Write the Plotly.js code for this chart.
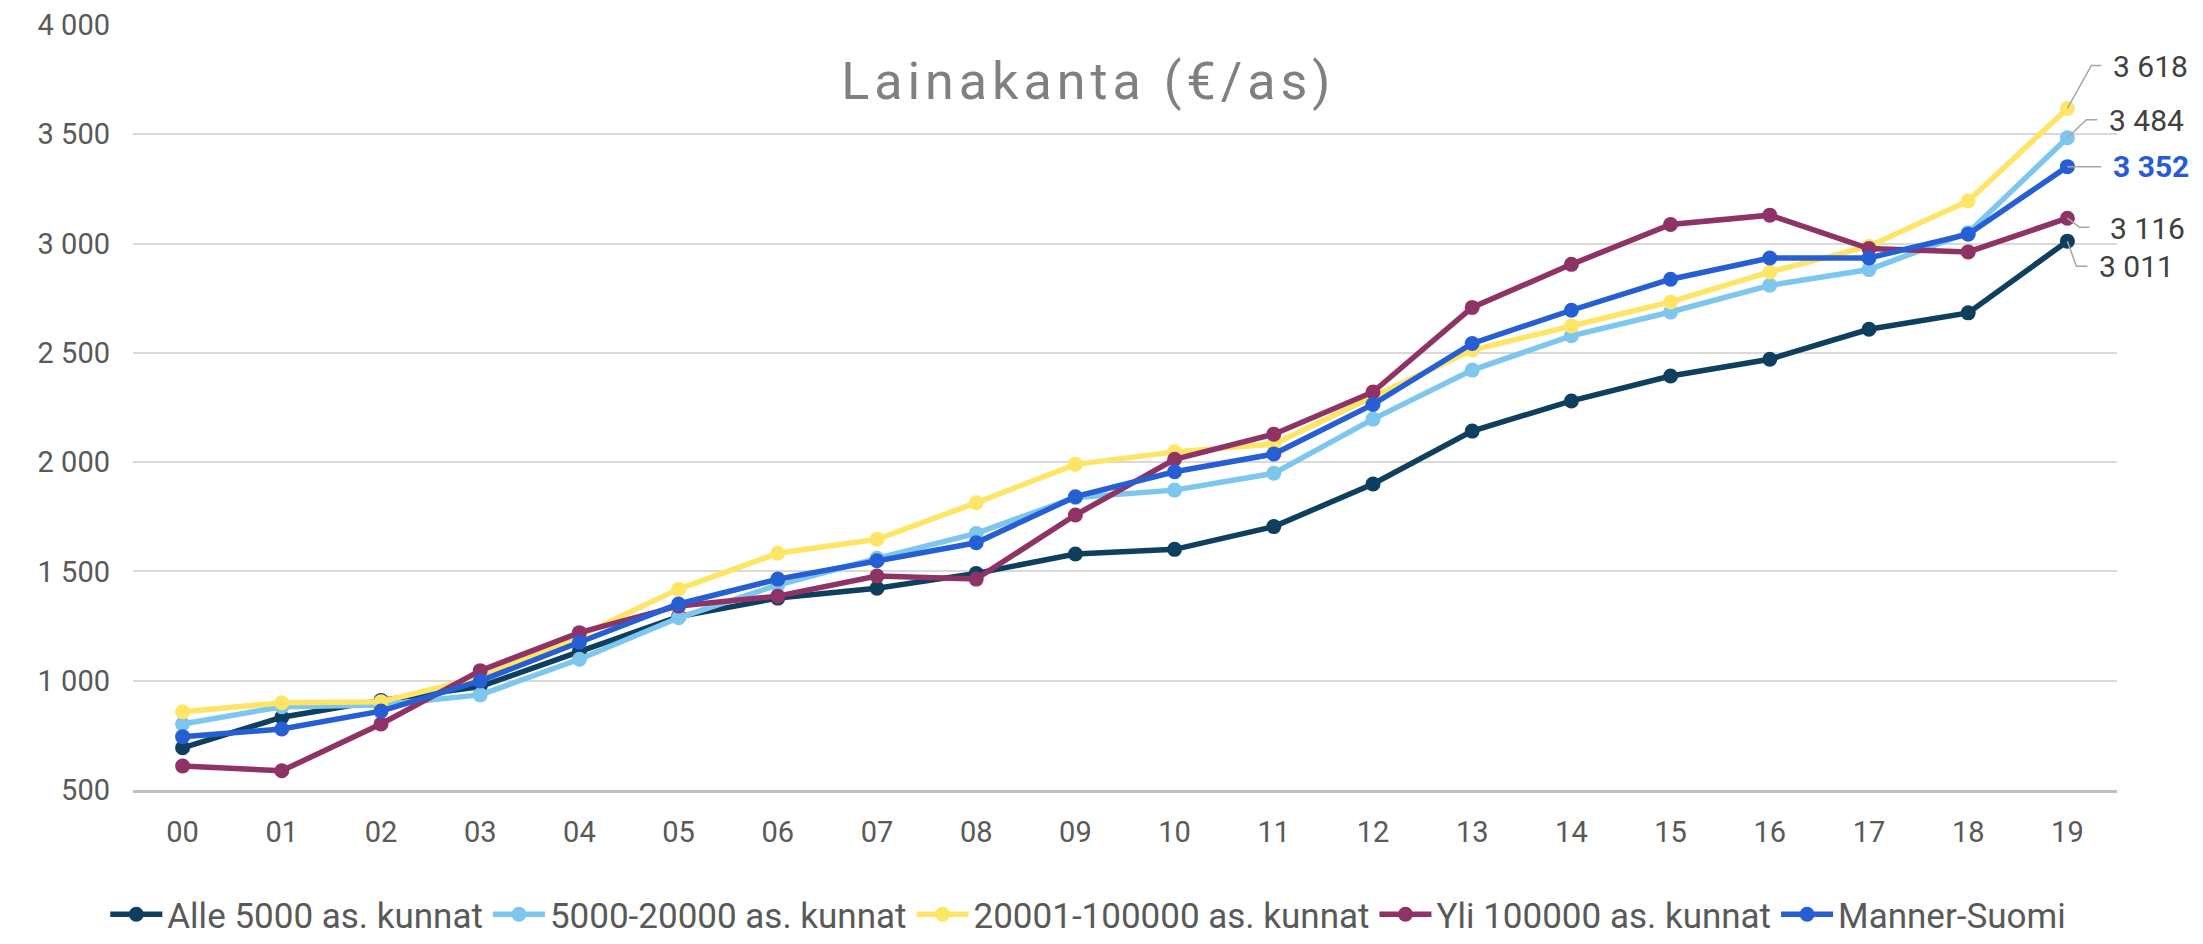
<!DOCTYPE html>
<html>
<head>
<meta charset="utf-8">
<script src="https://cdn.plot.ly/plotly-3.0.1.min.js"></script>
<style>
html,body{margin:0;padding:0;background:#fff;}
#chart{width:2203px;height:944px;}
.gtitle{letter-spacing:5px;}
</style>
</head>
<body>
<div id="chart"></div>
<script>
// ---- data ----
const years = ['00','01','02','03','04','05','06','07','08','09','10','11','12','13','14','15','16','17','18','19'];
const seriesNames = ['Alle 5000 as. kunnat','5000-20000 as. kunnat','20001-100000 as. kunnat','Yli 100000 as. kunnat','Manner-Suomi'];
const alle5000   = [693, 833, 910, 973, 1133, 1293, 1378, 1423, 1491, 1580, 1601, 1705, 1900, 2142, 2280, 2394, 2471, 2608, 2683, 3011];
const v5000_20000 = [802, 881, 889, 935, 1098, 1288, 1438, 1560, 1674, 1838, 1872, 1949, 2197, 2421, 2578, 2687, 2809, 2881, 3050, 3484];
const v20001_100000 = [858, 899, 904, 1015, 1205, 1419, 1583, 1647, 1814, 1990, 2047, 2083, 2299, 2513, 2623, 2733, 2870, 2988, 3195, 3618];
const yli100000  = [610, 588, 802, 1046, 1220, 1342, 1387, 1479, 1465, 1758, 2013, 2128, 2321, 2708, 2905, 3087, 3130, 2977, 2962, 3116];
const mannerSuomi = [744, 779, 861, 999, 1176, 1351, 1465, 1549, 1631, 1842, 1956, 2037, 2264, 2543, 2695, 2837, 2934, 2934, 3043, 3352];
const titleText = 'Lainakanta (€/as)';

// ---- styles ----
const colors = ['#0f3f5f', '#7dc6ee', '#ffe566', '#8f3366', '#265fd3'];
const allSeries = [alle5000, v5000_20000, v20001_100000, yli100000, mannerSuomi];

// label placement relative to last point (pixels; dy positive = up)
const labelStyle = [
  {tx: 30, ty: -25, ex: 9,  ey: -25, lx: 20, bold:false},   // Alle 5000
  {tx: 40, ty: 17,  ex: 19, ey: 18,  lx: 30, bold:false},   // 5000-20000
  {tx: 44, ty: 42,  ex: 24, ey: 43,  lx: 34, bold:false},   // 20001-100000
  {tx: 41, ty: -10, ex: 12, ey: -9,  lx: 22, bold:false},   // Yli 100000
  {tx: 44, ty: 0,   ex: 17, ey: 0,   lx: 34, bold:true}     // Manner-Suomi
];

function fmt(v){ return String(Math.round(v)).replace(/\B(?=(\d{3})+(?!\d))/g, ' '); }

const traces = allSeries.map((s, i) => ({
  type: 'scatter', mode: 'lines+markers',
  x: years, y: s, name: seriesNames[i],
  line: {color: colors[i], width: 5.5},
  marker: {color: colors[i], size: 15},
  hoverinfo: 'skip'
}));

const lastCat = years[years.length - 1];
const annotations = [];
const shapes = [];
allSeries.forEach((s, i) => {
  const v = s[s.length - 1];
  const st = labelStyle[i];
  annotations.push({
    x: lastCat, y: v, xref: 'x', yref: 'y',
    text: st.bold ? '<b>' + fmt(v) + '</b>' : fmt(v),
    showarrow: false, xanchor: 'left', yanchor: 'middle',
    xshift: st.tx, yshift: st.ty,
    font: {size: 30, color: st.bold ? '#2a5bd7' : '#404040', family: 'Roboto, sans-serif'}
  });
  shapes.push({
    type: 'path', xref: 'x', yref: 'y',
    xsizemode: 'pixel', ysizemode: 'pixel',
    xanchor: lastCat, yanchor: v,
    path: 'M0,0L' + st.ex + ',' + st.ey + 'L' + st.lx + ',' + st.ey,
    line: {color: '#a6a6a6', width: 1.5},
    layer: 'above'
  });
});

const layout = {
  width: 2203, height: 944,
  margin: {l: 133, r: 86, t: 25, b: 154, pad: 0},
  paper_bgcolor: '#ffffff', plot_bgcolor: '#ffffff',
  separators: ', ',
  font: {family: 'Roboto, sans-serif', color: '#595959', size: 29},
  title: {
    text: titleText,
    font: {size: 52, color: '#808080', family: 'Roboto, sans-serif'},
    x: 0.494, xref: 'container', xanchor: 'center',
    y: 0.914, yref: 'container', yanchor: 'middle'
  },
  xaxis: {
    type: 'category', range: [-0.5, 19.5],
    showgrid: false, zeroline: false,
    showline: true, linecolor: '#bfbfbf', linewidth: 3,
    ticks: '', ticklabelstandoff: 14,
    tickfont: {size: 29, color: '#595959'},
    fixedrange: true
  },
  yaxis: {
    range: [500, 4000], tick0: 500, dtick: 500, tickformat: ',d',
    showgrid: true, gridcolor: '#d9d9d9', gridwidth: 2,
    zeroline: false, showline: false, ticks: '',
    ticklabelstandoff: 22,
    tickfont: {size: 29, color: '#595959'},
    fixedrange: true
  },
  showlegend: true,
  legend: {
    orientation: 'h',
    xref: 'container', x: 0.494, xanchor: 'center',
    yref: 'container', y: 0, yanchor: 'bottom',
    borderwidth: 0,
    font: {size: 35, color: '#595959'},
    itemwidth: 52, bgcolor: 'rgba(0,0,0,0)'
  },
  annotations: annotations,
  shapes: shapes
};

Plotly.newPlot('chart', traces, layout, {displayModeBar: false, staticPlot: true});
</script>
</body>
</html>
